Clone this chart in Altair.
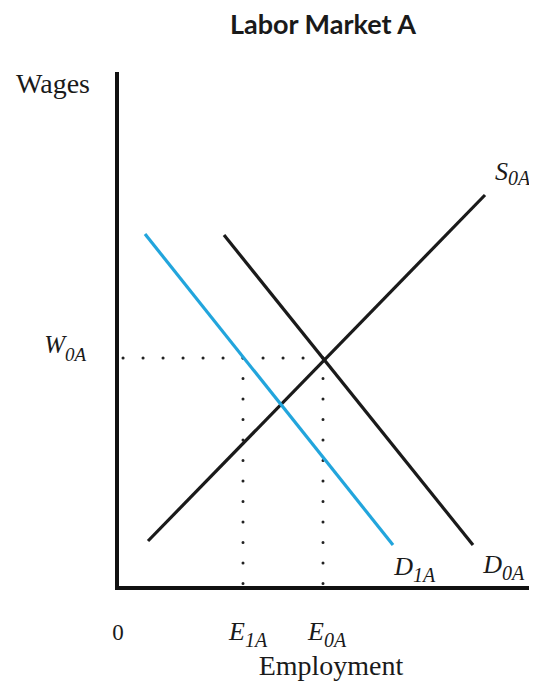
import altair as alt
import pandas as pd

# Data (units, origin at the axes corner)
X_MAX = 412
Y_MAX = 514
curve_names = ["S0A", "D0A", "D1A"]
curve_x1 = [31, 107, 28]
curve_y1 = [47, 353, 354]
curve_x2 = [368, 356, 276]
curve_y2 = [393, 43, 43]
curve_colors = ["#1a1a1a", "#1a1a1a", "#22a5dc"]

W0A = 230
E0A = 206
E1A = 126

xs = alt.Scale(domain=[0, X_MAX], nice=False, zero=False)
ys = alt.Scale(domain=[0, Y_MAX], nice=False, zero=False)

SERIF = "Liberation Serif"

curves = pd.DataFrame({"name": curve_names, "x": curve_x1, "y": curve_y1,
                       "x2": curve_x2, "y2": curve_y2, "c": curve_colors})

axes_df = pd.DataFrame({"x": [0, 0], "y": [0, 0], "x2": [X_MAX, 0], "y2": [0, Y_MAX]})

curve_layer = alt.Chart(curves).mark_rule(strokeWidth=3.2, strokeCap="butt").encode(
    x=alt.X("x:Q", scale=xs, axis=None),
    y=alt.Y("y:Q", scale=ys, axis=None),
    x2="x2:Q", y2="y2:Q",
    color=alt.Color("c:N", scale=None),
)

axes_layer = alt.Chart(axes_df).mark_rule(strokeWidth=4, color="#111111", strokeCap="square").encode(
    x=alt.X("x:Q", scale=xs, axis=None),
    y=alt.Y("y:Q", scale=ys, axis=None),
    x2="x2:Q", y2="y2:Q",
)

hdots_df = pd.DataFrame({"x": [0], "y": [W0A], "x2": [E0A], "y2": [W0A]})
hdots_layer = alt.Chart(hdots_df).mark_rule(strokeWidth=3, color="#222222",
                                            strokeDash=[0.1, 19.9], strokeDashOffset=14,
                                            strokeCap="round").encode(
    x=alt.X("x:Q", scale=xs, axis=None),
    y=alt.Y("y:Q", scale=ys, axis=None),
    x2="x2:Q", y2="y2:Q",
)

vdots_df = pd.DataFrame({"x": [E1A, E0A], "y": [W0A, W0A], "x2": [E1A, E0A], "y2": [0, 0]})
vdots_layer = alt.Chart(vdots_df).mark_rule(strokeWidth=3, color="#222222",
                                            strokeDash=[0.1, 20.4], strokeCap="round").encode(
    x=alt.X("x:Q", scale=xs, axis=None),
    y=alt.Y("y:Q", scale=ys, axis=None),
    x2="x2:Q", y2="y2:Q",
)


def sublabel(main, sub, xv, yv, dx, dy, sdy, size=26, ssize=20):
    d = pd.DataFrame({"x": [xv], "y": [yv], "m": [main], "s": [sub]})
    c = alt.Chart(d)
    m = c.mark_text(font=SERIF, fontStyle="italic", fontSize=size, align="right",
                    baseline="alphabetic", dx=dx, dy=dy, color="#1a1a1a").encode(
        x=alt.X("x:Q", scale=xs, axis=None), y=alt.Y("y:Q", scale=ys, axis=None), text="m:N")
    s = c.mark_text(font=SERIF, fontStyle="italic", fontSize=ssize, align="left",
                    baseline="alphabetic", dx=dx, dy=sdy, color="#1a1a1a").encode(
        x=alt.X("x:Q", scale=xs, axis=None), y=alt.Y("y:Q", scale=ys, axis=None), text="s:N")
    return [m, s]


labels = []
labels += sublabel("S", "0A", curve_x2[0], curve_y2[0], 23, -15, -10)
labels += sublabel("D", "1A", curve_x2[2], curve_y2[2], 20, 30, 37)
labels += sublabel("D", "0A", curve_x2[1], curve_y2[1], 29, 28, 35)
labels += sublabel("W", "0A", 0, W0A, -52, -5, 3, size=25, ssize=19)
labels += sublabel("E", "1A", E1A, 0, 2, 52, 59)
labels += sublabel("E", "0A", E0A, 0, 1, 52, 59)

zero_df = pd.DataFrame({"x": [0], "y": [0], "t": ["0"]})
zero_layer = alt.Chart(zero_df).mark_text(font=SERIF, fontSize=23, align="center",
                                          baseline="alphabetic", dx=1, dy=52, color="#1a1a1a").encode(
    x=alt.X("x:Q", scale=xs, axis=None), y=alt.Y("y:Q", scale=ys, axis=None), text="t:N")

wages_df = pd.DataFrame({"x": [0], "y": [Y_MAX], "t": ["Wages"]})
wages_layer = alt.Chart(wages_df).mark_text(font=SERIF, fontSize=28, align="right",
                                            baseline="alphabetic", dx=-27, dy=19, color="#1a1a1a").encode(
    x=alt.X("x:Q", scale=xs, axis=None), y=alt.Y("y:Q", scale=ys, axis=None), text="t:N")

emp_df = pd.DataFrame({"t": ["Employment"]})
emp_layer = alt.Chart(emp_df).mark_text(font=SERIF, fontSize=28, align="center",
                                        baseline="alphabetic", color="#1a1a1a").encode(
    x=alt.value(214), y=alt.value(601), text="t:N")

title_df = pd.DataFrame({"t": ["Labor Market A"]})
title_layer = alt.Chart(title_df).mark_text(font="Lato", fontWeight="bold", fontSize=27, align="center",
                                            baseline="alphabetic", color="#1a1a1a").encode(
    x=alt.value(206), y=alt.value(-40), text="t:N")

chart = alt.layer(
    hdots_layer, vdots_layer, curve_layer, axes_layer, zero_layer, wages_layer, emp_layer,
    title_layer, *labels
).properties(
    width=X_MAX, height=Y_MAX,
    background="white",
    autosize=alt.AutoSizeParams(type="none"),
    padding={"left": 109, "top": 66, "right": 0, "bottom": 95},
).configure_view(stroke=None, strokeWidth=0)

chart.save("out.html", embed_options={"renderer": "svg", "actions": False})
